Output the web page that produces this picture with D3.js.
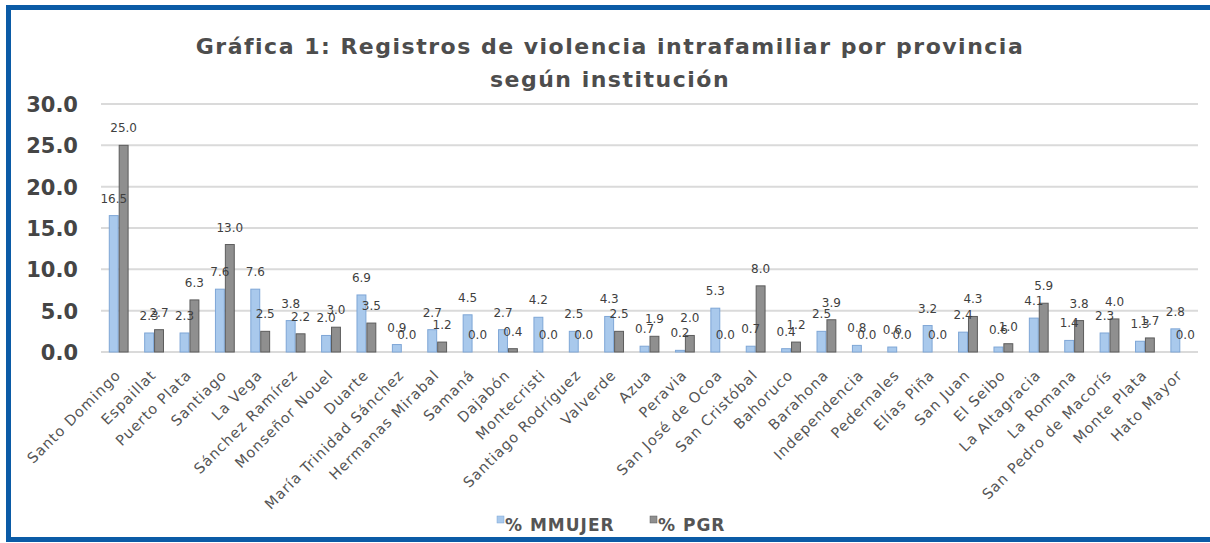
<!DOCTYPE html>
<html>
<head>
<meta charset="utf-8">
<script src="https://d3js.org/d3.v7.min.js"></script>
<title>Gráfica 1</title>
<style>
  body { margin: 0; background: #fff; }
  text { font-family: 'DejaVu Sans', sans-serif; }
</style>
</head>
<body>
<script>
var provincias = ["Santo Domingo","Espaillat","Puerto Plata","Santiago","La Vega","Sánchez Ramírez",
  "Monseñor Nouel","Duarte","María Trinidad Sánchez","Hermanas Mirabal","Samaná","Dajabón",
  "Montecristi","Santiago Rodríguez","Valverde","Azua","Peravia","San José de Ocoa","San Cristóbal",
  "Bahoruco","Barahona","Independencia","Pedernales","Elías Piña","San Juan","El Seibo",
  "La Altagracia","La Romana","San Pedro de Macorís","Monte Plata","Hato Mayor"];
var mmujer = [16.5,2.3,2.3,7.6,7.6,3.8,2.0,6.9,0.9,2.7,4.5,2.7,4.2,2.5,4.3,0.7,0.2,5.3,0.7,0.4,
  2.5,0.8,0.6,3.2,2.4,0.6,4.1,1.4,2.3,1.3,2.8];
var pgr = [25.0,2.7,6.3,13.0,2.5,2.2,3.0,3.5,0.0,1.2,0.0,0.4,0.0,0.0,2.5,1.9,2.0,0.0,8.0,1.2,
  3.9,0.0,0.0,0.0,4.3,1.0,5.9,3.8,4.0,1.7,0.0];
var series = ["% MMUJER", "% PGR"];
var yTicks = [0,5,10,15,20,25,30];

var W = 1210, H = 543,
    plotL = 101, plotR = 1198, plotT = 104, plotB = 352,
    fills = ["#a9c9ec", "#8f8f8f"],
    edges = ["#7ea6d6", "#5c5c5c"];

var svg = d3.select("body").append("svg")
  .attr("width", W)
  .attr("height", H);

// frame
svg.append("rect")
  .attr("x", 8.5).attr("y", 7.5)
  .attr("width", 1212).attr("height", 532)
  .attr("fill", "#fff")
  .attr("stroke", "#0b5ba6")
  .attr("stroke-width", 5);

svg.append("text")
  .attr("x", 610).attr("y", 54)
  .attr("text-anchor", "middle")
  .attr("font-size", 22).attr("font-weight", "bold")
  .attr("letter-spacing", 1.5)
  .attr("fill", "#4d4d4d")
  .text("Gráfica 1: Registros de violencia intrafamiliar por provincia");
svg.append("text")
  .attr("x", 610).attr("y", 87)
  .attr("text-anchor", "middle")
  .attr("font-size", 22).attr("font-weight", "bold")
  .attr("letter-spacing", 1.5)
  .attr("fill", "#4d4d4d")
  .text("según institución");

var y = d3.scaleLinear().domain([0, 30]).range([plotB, plotT]);
var x0 = d3.scaleBand().domain(provincias).range([plotL, plotR])
  .paddingInner(0.44).paddingOuter(0.22);
var x1 = d3.scaleBand().domain(series).range([0, x0.bandwidth()]);

// gridlines
svg.append("g").selectAll("line")
  .data(yTicks)
  .enter().append("line")
    .attr("x1", plotL).attr("x2", plotR)
    .attr("y1", function(d){ return y(d); })
    .attr("y2", function(d){ return y(d); })
    .attr("stroke", "#dadada")
    .attr("stroke-width", 2);

// y axis labels
svg.append("g").selectAll("text")
  .data(yTicks)
  .enter().append("text")
    .attr("x", 78)
    .attr("y", function(d){ return y(d) + 8; })
    .attr("text-anchor", "end")
    .attr("font-size", 21).attr("font-weight", "bold")
    .attr("fill", "#454545")
    .text(function(d){ return d3.format(".1f")(d); });

var rows = provincias.map(function(p, i){
  return [{p: p, s: 0, v: mmujer[i]}, {p: p, s: 1, v: pgr[i]}];
});

var groups = svg.append("g").selectAll("g")
  .data(rows)
  .enter().append("g")
    .attr("transform", function(d){ return "translate(" + x0(d[0].p) + ",0)"; });

groups.selectAll("rect")
  .data(function(d){ return d; })
  .enter().append("rect")
    .attr("x", function(d){ return x1(series[d.s]) + 0.5; })
    .attr("y", function(d){ return y(d.v); })
    .attr("width", x1.bandwidth() - 1)
    .attr("height", function(d){ return plotB - y(d.v); })
    .attr("fill", function(d){ return fills[d.s]; })
    .attr("stroke", function(d){ return edges[d.s]; })
    .attr("stroke-width", 1);

groups.selectAll("text")
  .data(function(d){ return d; })
  .enter().append("text")
    .attr("x", function(d){ return x1(series[d.s]) + x1.bandwidth() / 2; })
    .attr("y", function(d){ return y(d.v) - 13; })
    .attr("text-anchor", "middle")
    .attr("font-family", "'Liberation Sans', sans-serif")
    .attr("font-size", 12)
    .attr("fill", "#3f3f3f")
    .text(function(d){ return d3.format(".1f")(d.v); });

// category labels
svg.append("g").selectAll("text")
  .data(provincias)
  .enter().append("text")
    .attr("transform", function(d){
      return "translate(" + (x0(d) + x0.bandwidth() / 2 + 3) + ",376) rotate(-45)";
    })
    .attr("text-anchor", "end")
    .attr("font-size", 14.5)
    .attr("letter-spacing", 1)
    .attr("fill", "#555")
    .text(function(d){ return d; });

// legend
var legX = [497, 650];
var leg = svg.append("g").selectAll("g")
  .data(series)
  .enter().append("g")
    .attr("transform", function(d, i){ return "translate(" + legX[i] + ",516)"; });
leg.append("rect")
  .attr("width", 7).attr("height", 7)
  .attr("fill", function(d, i){ return fills[i]; })
  .attr("stroke", function(d, i){ return edges[i]; })
  .attr("stroke-width", 0.5);
leg.append("text")
  .attr("x", 8).attr("y", 15)
  .attr("font-size", 17).attr("font-weight", "bold")
  .attr("letter-spacing", 1)
  .attr("fill", "#555")
  .text(function(d){ return d; });
</script>
</body>
</html>
